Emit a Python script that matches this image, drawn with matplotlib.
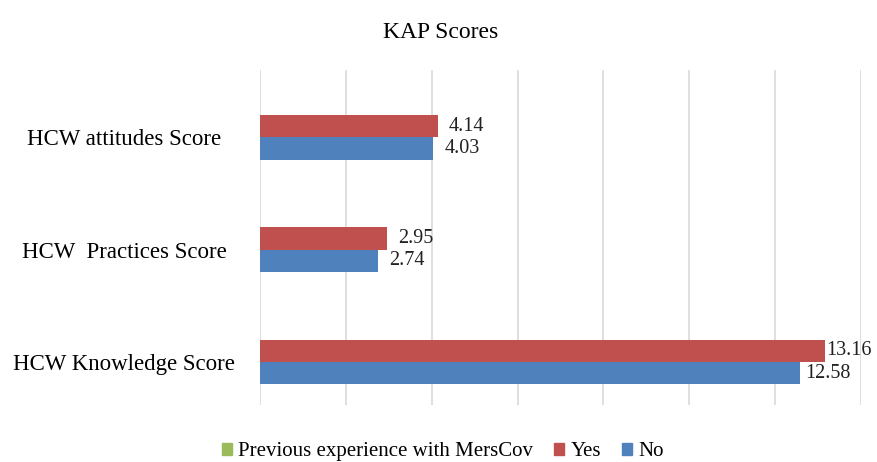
import numpy as np
import matplotlib
matplotlib.use('Agg')
import matplotlib.pyplot as plt
from matplotlib.patches import Patch

plt.rcParams['font.family'] = ['Liberation Serif', 'DejaVu Serif']

# categories bottom-to-top
categories = ['HCW Knowledge Score', 'HCW  Practices Score', 'HCW attitudes Score']
yes_vals = [13.16, 2.95, 4.14]
no_vals = [12.58, 2.74, 4.03]

red = '#C0504D'
blue = '#4F81BD'
green = '#9BBB59'

fig = plt.figure(figsize=(8.77, 4.62), dpi=100)
ax = fig.add_axes([0.2965, 0.1234, 0.6853, 0.7251])

y = np.arange(len(categories))
h = 0.2
b_yes = ax.barh(y + h / 2, yes_vals, height=h, color=red, zorder=3)
b_no = ax.barh(y - h / 2, no_vals, height=h, color=blue, zorder=3)

for bars, vals in [(b_yes, yes_vals), (b_no, no_vals)]:
    for bar, v in zip(bars, vals):
        # long bars sit near the right edge, labels hug the bar end there
        off = 8 if v < 10 else (1 if v > 13 else 4)
        ax.annotate(f'{v:.2f}', (bar.get_width(), bar.get_y() + bar.get_height() / 2),
                    xytext=(off, 0), textcoords='offset points', va='center', ha='left',
                    fontsize=14.5, color='#222222')

ax.set_xlim(0, 14)
ax.set_ylim(-0.383, 2.60)
ax.set_xticks(np.arange(0, 15, 2))
ax.set_xticklabels([])
ax.tick_params(axis='x', length=0)
ax.set_yticks(y)
ax.set_yticklabels(categories, ha='center')
ax.tick_params(axis='y', length=0, pad=98, labelsize=16.5)
ax.grid(axis='x', color='#D9D9D9', linewidth=1.2, zorder=0)
ax.set_axisbelow(True)
for s in ax.spines.values():
    s.set_visible(False)

fig.text(0.502, 0.93, 'KAP Scores', ha='center', va='center', fontsize=17)

handles = [Patch(color=green), Patch(color=red), Patch(color=blue)]
labels = ['Previous experience with MersCov', 'Yes', 'No']
fig.legend(handles, labels, loc='center', bbox_to_anchor=(0.505, 0.022), ncol=3, frameon=False,
           fontsize=15, handlelength=0.5, handleheight=0.5, handletextpad=0.3,
           columnspacing=1.0)

fig.savefig('out.png', dpi=100)
